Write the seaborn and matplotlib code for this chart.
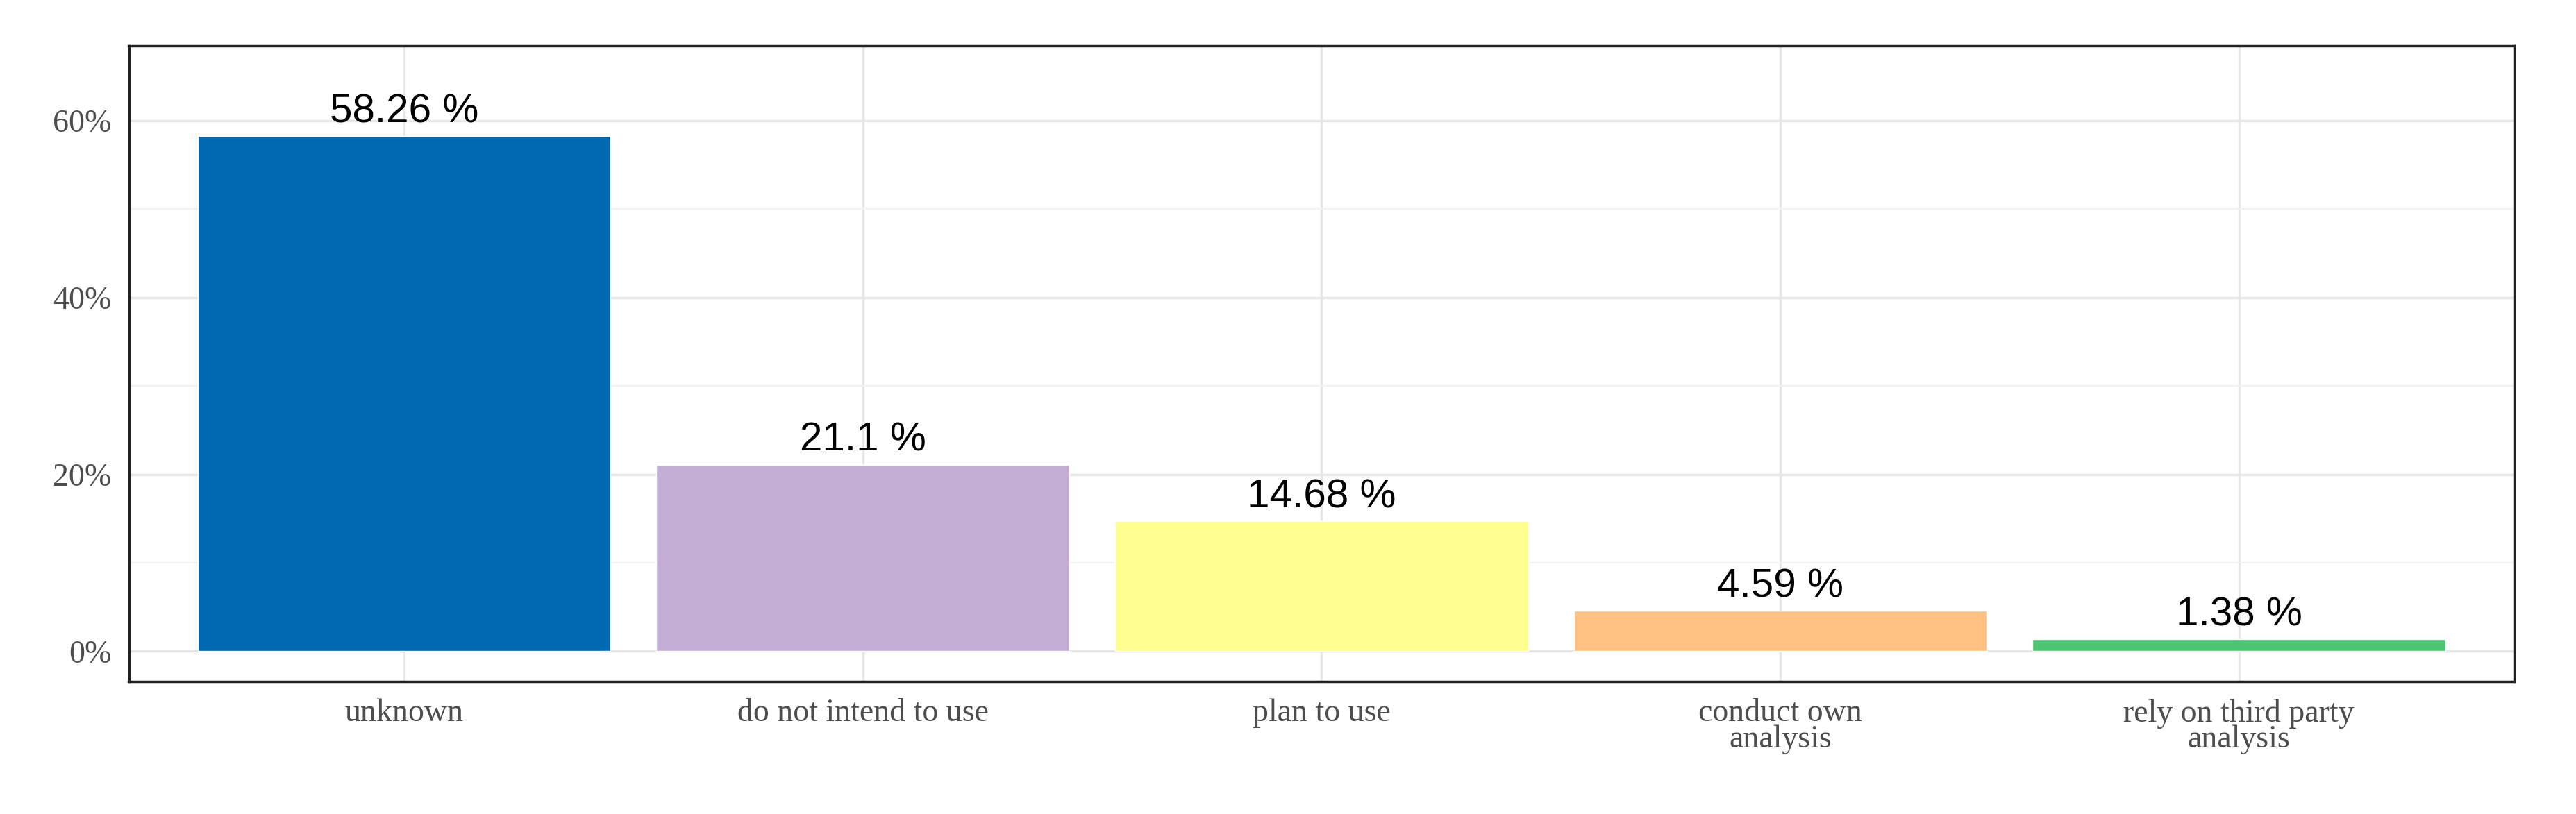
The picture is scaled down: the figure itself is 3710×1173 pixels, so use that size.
import matplotlib
matplotlib.use("Agg")
import matplotlib.pyplot as plt
import seaborn as sns
import pandas as pd

categories = ["unknown", "do not intend to use", "plan to use",
              "conduct own\nanalysis", "rely on third party\nanalysis"]
values = [58.26, 21.1, 14.68, 4.59, 1.38]
labels = ["58.26 %", "21.1 %", "14.68 %", "4.59 %", "1.38 %"]
colors = ["#0069B1", "#C5AED6", "#FFFF8F", "#FFC182", "#4CC472"]

df = pd.DataFrame({"cat": categories, "val": values})

sns.set_theme(style="whitegrid")
fig = plt.figure(figsize=(37.1, 11.73), dpi=100)
ax = fig.add_axes([0.05, 0.163, 0.926, 0.781])
sns.barplot(data=df, x="cat", y="val", hue="cat", palette=colors,
            width=0.9, legend=False, ax=ax, saturation=1)

ax.set_ylim(-3.4, 68.5)
ax.set_xlim(-0.6, 4.6)
ax.set_yticks([0, 20, 40, 60])
ax.set_yticklabels(["0%", "20%", "40%", "60%"])
ax.set_yticks([10, 30, 50], minor=True)
ax.grid(True, which="major", color="#E6E6E6", lw=2.5)
ax.grid(True, which="minor", axis="y", color="#F2F2F2", lw=1.5)
ax.set_axisbelow(True)
ax.set_xlabel("")
ax.set_ylabel("")
for s in ax.spines.values():
    s.set_color("#222222")
    s.set_linewidth(2.5)
ax.tick_params(axis="both", which="major", length=10, width=2, color="#333333",
               labelsize=33, labelcolor="#4D4D4D", pad=8)
ax.tick_params(axis="y", which="minor", length=0)
for t in ax.get_xticklabels() + ax.get_yticklabels():
    t.set_family("Liberation Serif")
    t.set_linespacing(0.85)

for i, (v, lab) in enumerate(zip(values, labels)):
    ax.text(i, v + 0.6, lab, ha="center", va="bottom", fontsize=42,
            family="Liberation Sans", color="black")

fig.savefig("out.png", dpi=100, facecolor="white")
